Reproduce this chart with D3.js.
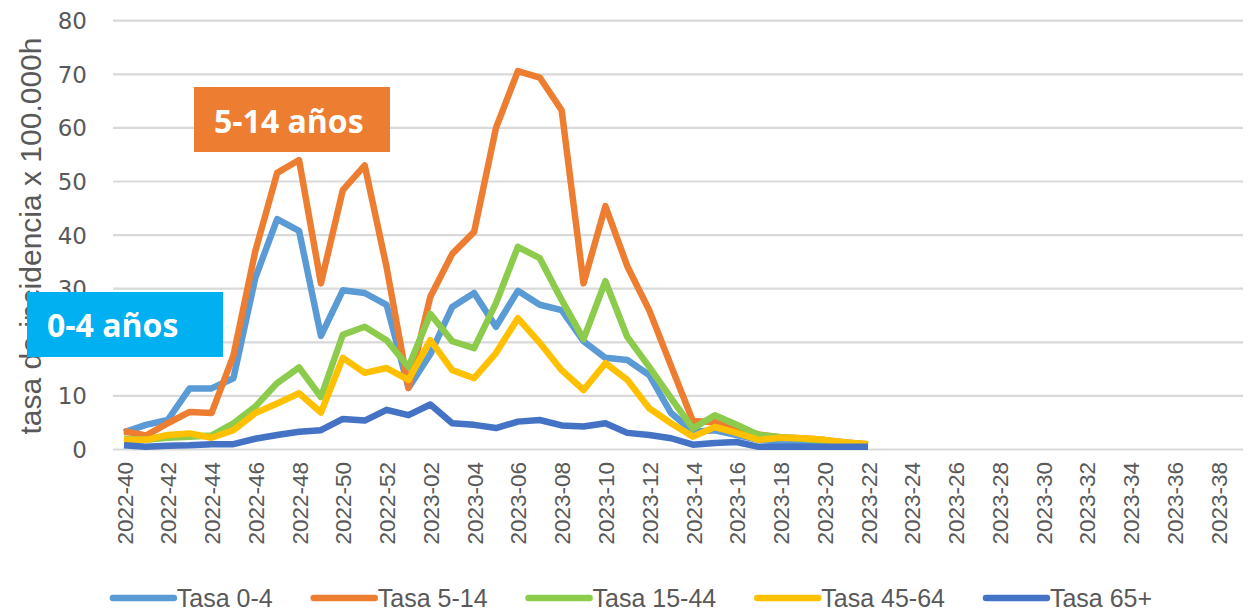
<!DOCTYPE html>
<html><head><meta charset="utf-8">
<script src="https://cdn.jsdelivr.net/npm/d3@7"></script>
<style>body{margin:0;background:#fff}svg{display:block}</style>
</head><body>
<svg id="c" width="1255" height="613"></svg>
<script>
const categories = ["2022-40","2022-41","2022-42","2022-43","2022-44","2022-45","2022-46","2022-47","2022-48","2022-49","2022-50","2022-51","2022-52",
"2023-01","2023-02","2023-03","2023-04","2023-05","2023-06","2023-07","2023-08","2023-09","2023-10","2023-11","2023-12","2023-13","2023-14","2023-15","2023-16","2023-17","2023-18","2023-19","2023-20","2023-21","2023-22","2023-23","2023-24","2023-25","2023-26","2023-27","2023-28","2023-29","2023-30","2023-31","2023-32","2023-33","2023-34","2023-35","2023-36","2023-37","2023-38","2023-39"];
const tickLabels = ["2022-40","2022-42","2022-44","2022-46","2022-48","2022-50","2022-52","2023-02","2023-04","2023-06","2023-08","2023-10","2023-12","2023-14","2023-16","2023-18","2023-20","2023-22","2023-24","2023-26","2023-28","2023-30","2023-32","2023-34","2023-36","2023-38"];
const yTicks = [0,10,20,30,40,50,60,70,80];
const seriesNames = ["Tasa 0-4","Tasa 5-14","Tasa 15-44","Tasa 45-64","Tasa 65+"];
const seriesColors = ["#5B9BD5","#ED7D31","#8CCB4B","#FFC000","#4472C4"];
const tasa04 = [3.2,4.6,5.5,11.4,11.4,13.3,32,43,40.8,21.2,29.7,29.2,27,11.5,17.8,26.6,29.2,22.9,29.6,27,26,20.2,17.1,16.7,13.9,6.8,3.3,3.6,2.7,1.8,1.5,1.4,1.2,0.9,0.7];
const tasa514 = [3.4,2.6,4.9,7.0,6.8,17.5,37,51.6,54,31,48.4,53,34,11.5,28.5,36.5,40.6,60,70.6,69.4,63.3,31,45.4,34.2,26,15.6,5.3,5.1,3.8,2.8,2.3,2.1,1.8,1.3,1.0];
const tasa1544 = [2.0,1.8,2.2,2.4,2.6,4.9,8.0,12.4,15.3,9.8,21.4,22.9,20.4,15.4,25.3,20.2,18.9,27.3,37.8,35.7,27.9,20.6,31.4,21,15.4,9.6,3.9,6.4,4.6,2.7,2.3,2.0,1.6,1.2,0.9];
const tasa4564 = [1.8,1.8,2.7,3.0,2.2,3.6,6.8,8.6,10.5,6.9,17.1,14.3,15.2,13.0,20.4,14.8,13.3,18,24.5,19.9,14.8,11.1,16.1,13.0,7.7,4.9,2.4,4.2,3.1,1.8,2.2,2.1,1.8,1.3,1.0];
const tasa65 = [0.8,0.5,0.7,0.8,1.0,1.0,2.0,2.7,3.3,3.6,5.7,5.4,7.4,6.4,8.4,4.9,4.6,4.0,5.2,5.5,4.5,4.3,4.9,3.1,2.7,2.1,0.9,1.2,1.4,0.5,0.5,0.5,0.5,0.5,0.5];
const seriesValues = [tasa04,tasa514,tasa1544,tasa4564,tasa65];
const yTitle = "tasa de incidencia x 100.000h";
const boxes = [
  {text:"5-14 años", color:"#ED7D31"},
  {text:"0-4 años", color:"#00B0F0"}
];

const svg = d3.select("#c");
const gray = "#595959";
const x = d3.scalePoint().domain(categories).range([124, 1240]);
const y = d3.scaleLinear().domain([0,80]).range([449.5, 20.7]);
const plotL = 113, plotR = 1243;

// gridlines
svg.append("g").selectAll("line").data(yTicks).join("line")
  .attr("x1", plotL).attr("x2", plotR)
  .attr("y1", d=>y(d)).attr("y2", d=>y(d))
  .attr("stroke", "#D9D9D9").attr("stroke-width", 2.2);

// y axis
const yAxis = d3.axisLeft(y).tickValues(yTicks).tickSize(0).tickPadding(0);
const yg = svg.append("g").attr("transform", "translate(87,0)").call(yAxis);
yg.select(".domain").remove();
yg.selectAll("text").attr("font-family","DejaVu Sans, sans-serif").attr("font-size",23).attr("fill",gray).attr("dy","0.35em");

// x axis
const xAxis = d3.axisBottom(x).tickValues(tickLabels).tickSize(0);
const xg = svg.append("g").attr("transform","translate(0,462)").call(xAxis);
xg.select(".domain").remove();
xg.selectAll("text")
  .attr("font-family","Liberation Sans, Arial, sans-serif").attr("font-size",22.5).attr("fill",gray)
  .attr("transform","rotate(-90)").attr("text-anchor","end")
  .attr("x",0).attr("y",0).attr("dy","0.36em");

// y title (partly covered by the 0-4 box, as in the reference)
svg.append("text").attr("transform","translate(41,236) rotate(-90)")
  .attr("text-anchor","middle").attr("font-family","Liberation Sans, Arial, sans-serif")
  .attr("font-size",30).attr("fill",gray).text(yTitle);

// lines
const line = d3.line().x((d,i)=>x(categories[i])).y(d=>y(d));
seriesValues.forEach((vals,k)=>{
  svg.append("path").datum(vals).attr("d", line)
    .attr("fill","none").attr("stroke", seriesColors[k]).attr("stroke-width",6.5)
    .attr("stroke-linejoin","round");
});

// annotation boxes
const bx = [{x:194,y:87,w:196,h:65,tx:214,ty:133},{x:27,y:292,w:196,h:65,tx:47,ty:337}];
boxes.forEach((b,i)=>{
  const p = bx[i];
  svg.append("rect").attr("x",p.x).attr("y",p.y).attr("width",p.w).attr("height",p.h).attr("fill",b.color);
  svg.append("text").attr("x",p.tx).attr("y",p.ty).attr("fill","#fff")
    .attr("font-family","Open Sans, sans-serif").attr("font-weight",700).attr("font-size",32).text(b.text);
});

// legend
const lg = svg.append("g");
const items = [];
seriesNames.forEach((n,k)=>{
  const g = lg.append("g");
  g.append("line").attr("x1",3).attr("x2",64).attr("y1",0).attr("y2",0)
    .attr("stroke",seriesColors[k]).attr("stroke-width",6.5).attr("stroke-linecap","round");
  const t = g.append("text").attr("x",67).attr("y",0).attr("dy","0.35em")
    .attr("font-family","Liberation Sans, Arial, sans-serif").attr("font-size",25).attr("fill",gray).text(n);
  const w = 67 + t.node().getComputedTextLength();
  items.push({g, w});
});
const gap = 38;
const total = d3.sum(items, d=>d.w) + gap*(items.length-1);
let pos = 631 - total/2;
items.forEach(it=>{ it.g.attr("transform",`translate(${pos},598)`); pos += it.w + gap; });
</script>
</body></html>
